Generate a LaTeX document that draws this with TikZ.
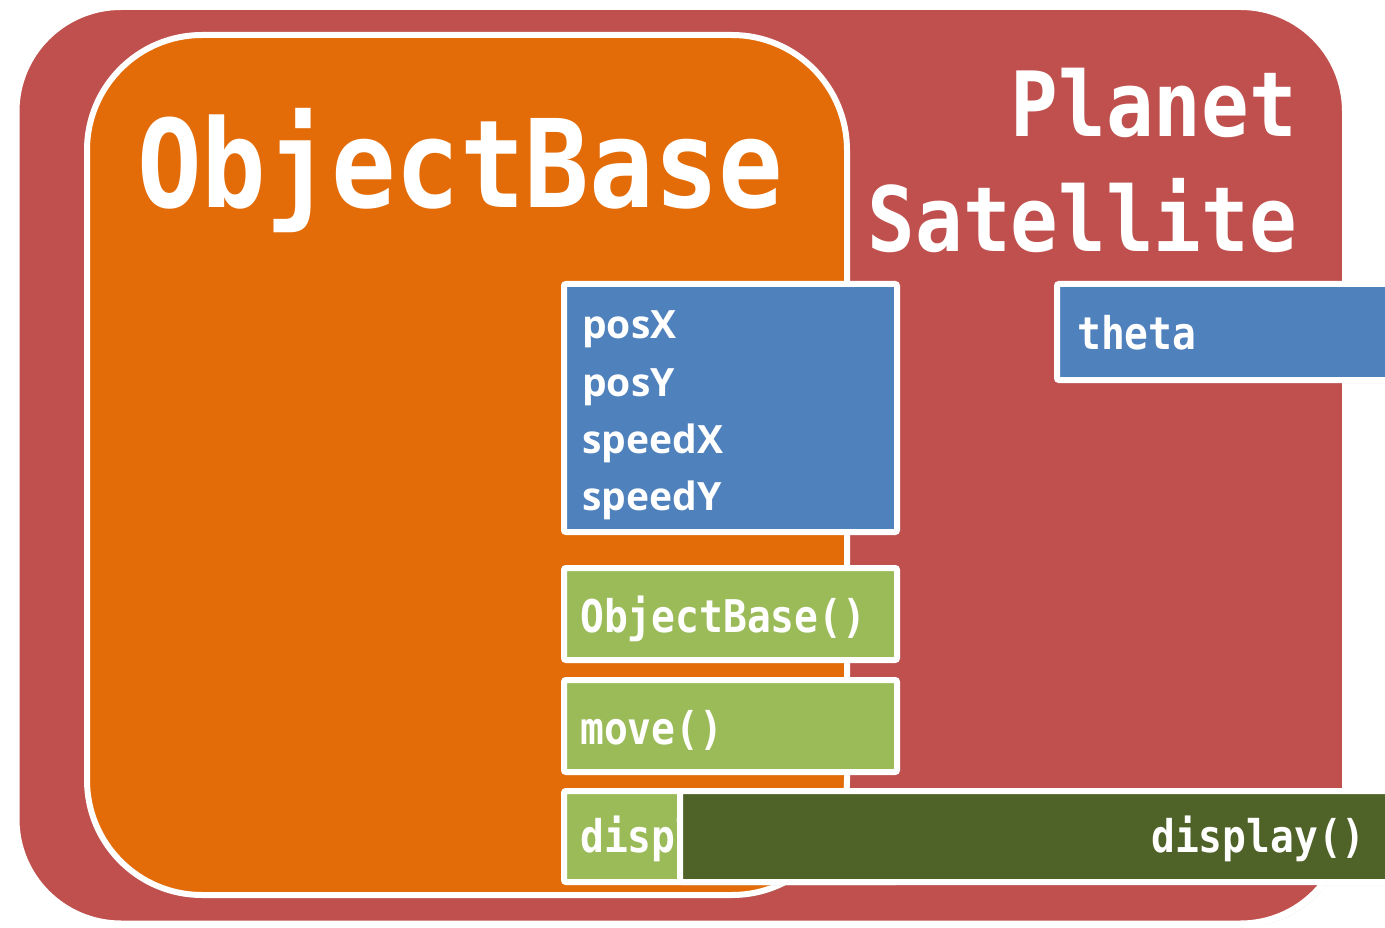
\documentclass[tikz,border=0pt]{standalone}
\usepackage{fontspec}
\usetikzlibrary{shadows}

\newfontfamily\codefont{DejaVu Sans Mono}[FakeStretch=0.88]
\setsansfont{Open Sans}

\definecolor{planetred}{HTML}{C0504D}
\definecolor{baseorange}{HTML}{E36C09}
\definecolor{fieldblue}{HTML}{4F81BD}
\definecolor{methodgreen}{HTML}{9BBB59}
\definecolor{overridegreen}{HTML}{4F6228}

\tikzset{
  softshadow/.style={drop shadow={opacity=0.3, shadow xshift=2pt, shadow yshift=-3pt}},
  classbox/.style={draw=white, line width=7pt, rounded corners=105pt, softshadow},
  memberbox/.style={rectangle, draw=white, line width=6pt, rounded corners=2pt,
    inner sep=0pt, softshadow},
  classname/.style={text=white, inner sep=0pt,
    font=\codefont\bfseries\fontsize{122}{122}\selectfont},
  subname/.style={text=white, inner sep=0pt,
    font=\codefont\bfseries\fontsize{90}{90}\selectfont},
  codetext/.style={text=white, inner sep=0pt,
    font=\codefont\bfseries\fontsize{45}{45}\selectfont},
  fieldtext/.style={text=white, inner sep=0pt,
    font=\sffamily\bfseries\fontsize{39}{39}\selectfont}
}

\begin{document}
\begin{tikzpicture}[x=1pt, y=-1pt]
  \clip (0,0) rectangle (1385,928);
  \fill[white] (0,0) rectangle (1385,928);

  % derived classes and base class
  \draw[classbox, fill=planetred] (16,6.5) rectangle (1345.5,924);
  \draw[classbox, fill=baseorange, line width=6pt, rounded corners=115pt] (87,35) rectangle (847,895);

  \node[classname, anchor=base west] (basename) at (137,208) {ObjectBase};
  \node[subname, anchor=base east] (planetname) at (1297,137) {Planet};
  \node[subname, anchor=base east] (satname) at (1297,252) {Satellite};

  % own field of the derived classes
  \node[memberbox, fill=fieldblue, minimum width=373pt, minimum height=96pt] (thetabox) at (1243.5,332) {};
  \node[codetext, anchor=base west] (theta) at (1077,349) {theta};

  % fields
  \node[memberbox, fill=fieldblue, minimum width=333pt, minimum height=248pt] (fieldbox) at (730.5,408) {};
  \foreach \field/\y in {posX/338, posY/396, speedX/453, speedY/510}
    \node[fieldtext, anchor=base west] (\field) at (582,\y) {\field};

  % methods
  \node[memberbox, fill=methodgreen, minimum width=333pt, minimum height=92pt] (ctorbox) at (730.5,614) {};
  \node[codetext, anchor=base west] (ctor) at (580,632) {ObjectBase()};
  \node[memberbox, fill=methodgreen, minimum width=333pt, minimum height=92pt] (movebox) at (730.5,726) {};
  \node[codetext, anchor=base west] (move) at (580,744) {move()};
  \node[memberbox, fill=methodgreen, minimum width=333pt, minimum height=91pt] (dispbox) at (730.5,836.5) {};
  \node[codetext, anchor=base west] (disp) at (580,852) {display()};

  % overriding method
  \node[memberbox, fill=overridegreen, minimum width=750pt, minimum height=91pt] (overbox) at (1055,836.5) {};
  \node[codetext, anchor=base east] (override) at (1366,852) {display()};
\end{tikzpicture}
\end{document}
